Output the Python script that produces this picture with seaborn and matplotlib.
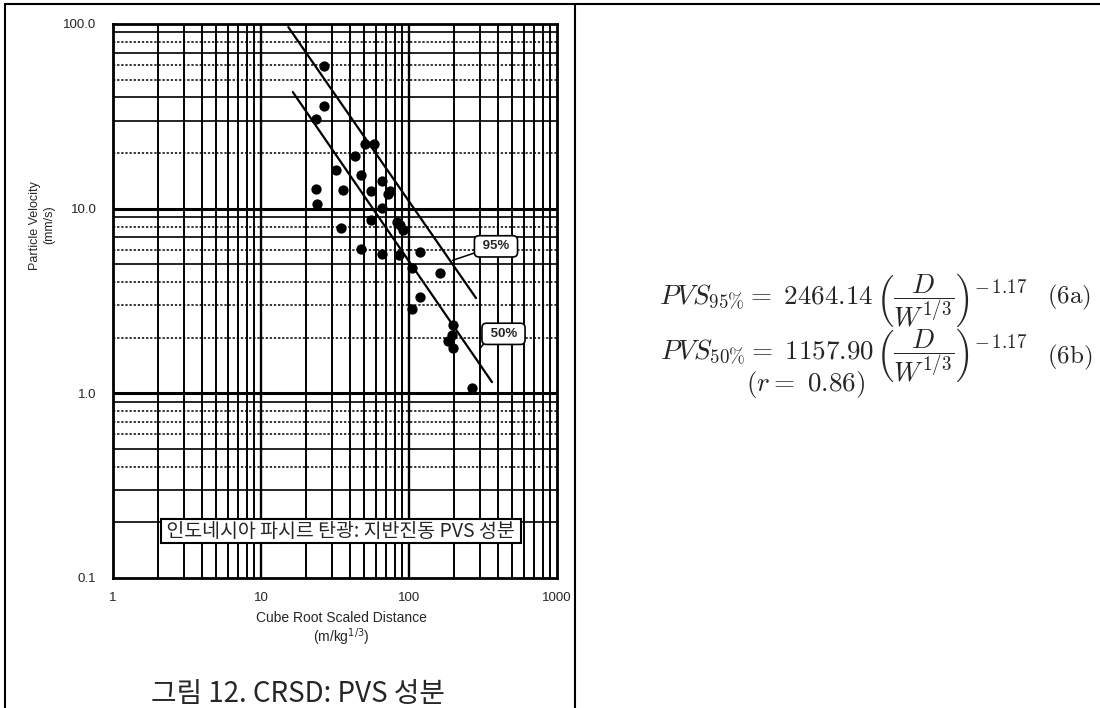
import numpy as np
import pandas as pd
import matplotlib
matplotlib.use("Agg")
import matplotlib.pyplot as plt
from matplotlib.lines import Line2D
from matplotlib.ticker import NullLocator
import seaborn as sns

# ==========================================
# Data
# ==========================================
scaled_distance = [26.8, 26.8, 23.4, 50.7, 58.0, 43.4, 32.0, 47.2, 23.4, 35.6,
                   66.0, 55.1, 74.4, 72.1, 24.0, 65.4, 55.1, 82.6, 87.0, 90.7,
                   34.6, 47.2, 66.0, 86.0, 118.7, 105.3, 162.0, 118.7, 104.3, 197.4,
                   194.3, 184.3, 197.4, 265.3]
particle_velocity = [59.5, 35.8, 30.4, 22.3, 22.3, 19.2, 16.1, 15.2, 12.8, 12.6,
                     14.1, 12.4, 12.4, 11.95, 10.6, 10.1, 8.65, 8.46, 8.12, 7.70,
                     7.89, 6.07, 5.71, 5.64, 5.85, 4.79, 4.50, 3.32, 2.87, 2.33,
                     2.08, 1.92, 1.77, 1.07]

# fitted lines, end points
fit_names = ["95%", "50%"]
fit_x = [[15.3, 283.6], [16.4, 363.8]]
fit_y = [[96.2, 3.28], [42.8, 1.15]]

x_ticks = [1, 10, 100, 1000]
x_tick_labels = ["1", "10", "100", "1000"]
y_ticks = [0.1, 1, 10, 100]
y_tick_labels = ["0.1", "1.0", "10.0", "100.0"]

site_label = "인도네시아 파시르 탄광: 지반진동 PVS 성분"
caption = "그림 12. CRSD: PVS 성분"
eq_lhs = [r"$PVS_{95\%}=\ 2464.14$", r"$PVS_{50\%}=\ 1157.90$"]
eq_rhs = r"$\left(\dfrac{D}{W^{1/3}}\right)^{-\,1.17}$"
eq_tags = [r"$\mathrm{(6a)}$", r"$\mathrm{(6b)}$"]
corr_text = r"$(r=\ 0.86)$"

# ==========================================
# Style
# ==========================================
sns.set_style("white")
plt.rcParams['font.family'] = ['Liberation Sans', 'Noto Sans CJK KR', 'DejaVu Sans']

fig = plt.figure(figsize=(11, 7.08), dpi=100)
ax = fig.add_axes([113 / 1100, 1 - 578 / 708, 444 / 1100, 554 / 708])
ax.set_xscale('log')
ax.set_yscale('log')
ax.set_xlim(1, 1000)
ax.set_ylim(0.1, 100)

# --- log paper grid ---
for d in [1, 10, 100]:
	for m in range(2, 10):
		ax.axvline(d * m, color='black', lw=1.4, zorder=1)
for d in [10, 100]:
	ax.axvline(d, color='black', lw=1.7, zorder=1)

solid_minor = [0.2, 0.3, 0.5, 0.9, 5, 7, 9, 30, 40, 70, 90]
for d in [0.1, 1, 10]:
	for m in range(2, 10):
		v = round(d * m, 3)
		if v in solid_minor:
			ax.axhline(v, color='black', lw=1.2, zorder=1)
		else:
			ax.axhline(v, color='black', lw=1.1, ls=(0, (1.5, 1.2)), zorder=1)
for v in [1, 10]:
	ax.axhline(v, color='black', lw=2.2, zorder=1)

# --- fitted lines ---
for name, xs, ys in zip(fit_names, fit_x, fit_y):
	sns.lineplot(x=xs, y=ys, color='black', lw=1.6, ax=ax, zorder=3)

# --- data points ---
sns.scatterplot(x=scaled_distance, y=particle_velocity, color='black', s=55,
				linewidth=0, ax=ax, zorder=4)

# --- callouts ---
box = dict(boxstyle='round,pad=0.35,rounding_size=0.35', fc='white', ec='black', lw=1.2)
ax.annotate(" 95% ", xy=(197, 5.25), xytext=(387, 6.25), fontsize=9.5, fontweight='bold',
			ha='center', va='center', bbox=box, zorder=5,
			arrowprops=dict(arrowstyle='-', color='black', lw=1.1, shrinkA=0, shrinkB=0,
							relpos=(0.13, 0.2)))
ax.annotate(" 50% ", xy=(302, 1.75), xytext=(435, 2.10), fontsize=9.5, fontweight='bold',
			ha='center', va='center', bbox=box, zorder=5,
			arrowprops=dict(arrowstyle='-', color='black', lw=1.1, shrinkA=0, shrinkB=0,
							relpos=(0.08, 0.26)))

ax.text(0.5135, 0.0848, " " + site_label + " ", transform=ax.transAxes, ha='center',
		va='center', fontsize=14, family=['Noto Sans CJK KR', 'DejaVu Sans'], zorder=6,
		bbox=dict(boxstyle='square,pad=0.08', fc='white', ec='black', lw=1.5))

# --- axes ---
ax.set_xticks(x_ticks)
ax.set_xticklabels(x_tick_labels)
ax.set_yticks(y_ticks)
ax.set_yticklabels(y_tick_labels)
ax.xaxis.set_minor_locator(NullLocator())
ax.yaxis.set_minor_locator(NullLocator())
ax.tick_params(axis='x', length=0, pad=10, labelsize=9.5)
ax.tick_params(axis='y', length=0, pad=12, labelsize=9.5)
for s in ax.spines.values():
	s.set_linewidth(2)
	s.set_color('black')

ax.set_xlabel("Cube Root Scaled Distance\n(m/kg$^{1/3}$)", fontsize=10, linespacing=1.1)
ax.xaxis.set_label_coords(0.515, -0.06)
ax.xaxis.label.set_va('top')
ax.set_ylabel("Particle Velocity\n(mm/s)", fontsize=9)
ax.yaxis.set_label_coords(-0.13, 0.637)

# --- frame and caption ---
fig.add_artist(Line2D([5 / 1100, 1], [1 - 4 / 708, 1 - 4 / 708], color='black', lw=1.5))
fig.add_artist(Line2D([5 / 1100, 5 / 1100], [0, 1 - 4 / 708], color='black', lw=1.5))
fig.add_artist(Line2D([575 / 1100, 575 / 1100], [0, 1 - 4 / 708], color='black', lw=1.5))

fig.text(298 / 1100, 1 - 694 / 708, caption, ha='center', va='center', fontsize=20,
		 family=['Noto Sans CJK KR', 'DejaVu Sans'])

# --- equations (left part / bracket part on a shared baseline) ---
split_x = 874 / 1100
for lhs, base in zip(eq_lhs, [304, 359]):
	yb = 1 - base / 708
	fig.text(split_x, yb, lhs, ha='right', va='baseline', fontsize=19.5, math_fontfamily='cm')
	fig.text(split_x + 2 / 1100, yb, eq_rhs, ha='left', va='baseline', fontsize=19.5,
			 math_fontfamily='cm')
fig.text(1047 / 1100, 1 - 297 / 708, eq_tags[0], ha='left', va='center', fontsize=18, math_fontfamily='cm')
fig.text(1047 / 1100, 1 - 357 / 708, eq_tags[1], ha='left', va='center', fontsize=18, math_fontfamily='cm')
fig.text(806 / 1100, 1 - 385 / 708, corr_text, ha='center', va='center', fontsize=19.5,
		 math_fontfamily='cm')

fig.savefig("out.png", dpi=100)
